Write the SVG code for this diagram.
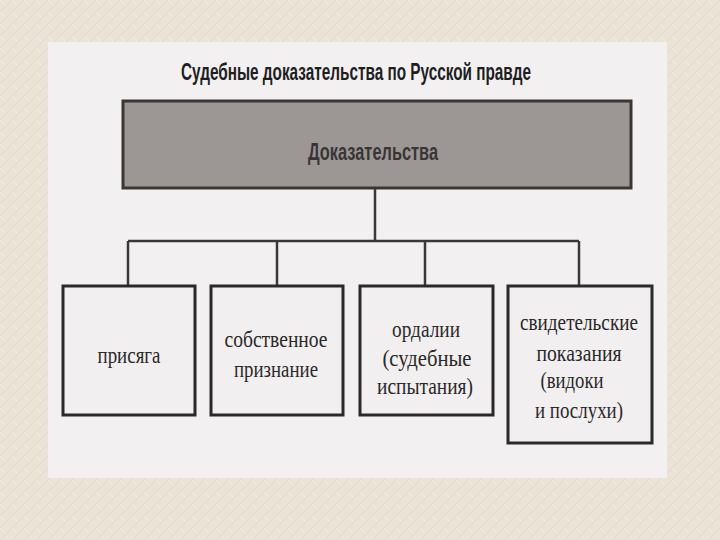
<svg xmlns="http://www.w3.org/2000/svg" width="720" height="540" viewBox="0 0 720 540">
<defs>
<pattern id="bgp" width="12" height="12" patternUnits="userSpaceOnUse">
<rect width="12" height="12" fill="#eae3d6"/>
<path d="M0 12 L12 0" stroke="#e0d8c8" stroke-width="1"/>
<path d="M0 0 L6 6" stroke="#f0ebe1" stroke-width="1"/>
</pattern>
<style>
.box{fill:#f2eff0;stroke:#2b2a2a;stroke-width:3}
.lbl{font-family:"Liberation Serif","DejaVu Serif",serif;font-size:23px;fill:#2a2828;text-anchor:middle}
.con{stroke:#3a3838;stroke-width:2.5;fill:none}
</style>
</defs>
<rect width="720" height="540" fill="url(#bgp)"/>
<rect x="48" y="42" width="619" height="436" fill="#f3f0f1"/>
<text transform="translate(356,80) scale(1,1.4)" x="0" y="0" font-family="Liberation Sans, Arial, sans-serif" font-weight="bold" font-size="17" fill="#1e1e1e" text-anchor="middle" textLength="350" lengthAdjust="spacingAndGlyphs">Судебные доказательства по Русской правде</text>
<g id="connectors">
<path class="con" d="M375 188 V241 M128 241 H579 M128 241 V286 M277 241 V286 M425 241 V286 M579 241 V286"/>
</g>
<g id="root">
<rect x="123" y="101" width="508" height="87" fill="#9c9795" stroke="#3a3636" stroke-width="3"/>
<text transform="translate(373,160) scale(1,1.35)" x="0" y="0" font-family="Liberation Sans, Arial, sans-serif" font-weight="bold" font-size="18" fill="#3a3535" text-anchor="middle" textLength="130" lengthAdjust="spacingAndGlyphs">Доказательства</text>
</g>
<g id="n1">
<rect class="box" x="63" y="286" width="132" height="129"/>
<text class="lbl" x="129" y="363" textLength="63" lengthAdjust="spacingAndGlyphs">присяга</text>
</g>
<g id="n2">
<rect class="box" x="211" y="286" width="132" height="129"/>
<text class="lbl" x="276" y="347" textLength="103" lengthAdjust="spacingAndGlyphs">собственное</text>
<text class="lbl" x="276" y="377" textLength="84" lengthAdjust="spacingAndGlyphs">признание</text>
</g>
<g id="n3">
<rect class="box" x="360" y="286" width="133" height="129"/>
<text class="lbl" x="426" y="337" textLength="68" lengthAdjust="spacingAndGlyphs">ордалии</text>
<text class="lbl" x="427" y="366" textLength="89" lengthAdjust="spacingAndGlyphs">(судебные</text>
<text class="lbl" x="425" y="394" textLength="96" lengthAdjust="spacingAndGlyphs">испытания)</text>
</g>
<g id="n4">
<rect class="box" x="508" y="286" width="144" height="157"/>
<text class="lbl" x="579" y="330" textLength="118" lengthAdjust="spacingAndGlyphs">свидетельские</text>
<text class="lbl" x="579" y="361" textLength="85" lengthAdjust="spacingAndGlyphs">показания</text>
<text class="lbl" x="572" y="388" textLength="63" lengthAdjust="spacingAndGlyphs">(видоки</text>
<text class="lbl" x="579" y="418" textLength="88" lengthAdjust="spacingAndGlyphs">и послухи)</text>
</g>
</svg>
